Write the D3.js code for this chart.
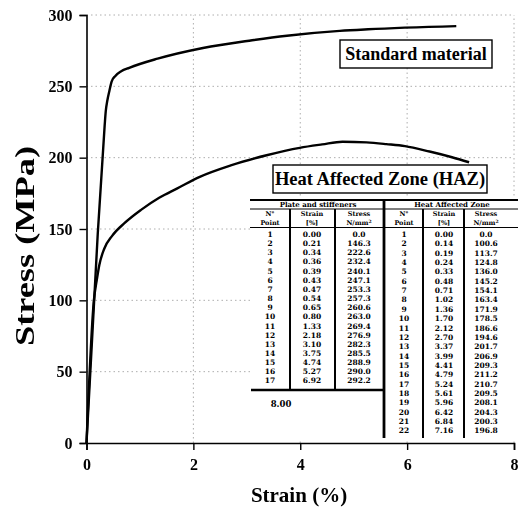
<!DOCTYPE html>
<html><head><meta charset="utf-8">
<script src="https://cdn.jsdelivr.net/npm/d3@7"></script>
<style>body{margin:0;background:#fff}svg{display:block;opacity:0.999}</style>
</head><body>
<script>
const stdStrain = [0.00,0.21,0.34,0.36,0.39,0.43,0.47,0.54,0.65,0.80,1.33,2.18,3.10,3.75,4.74,5.27,6.92];
const stdStress = [0.0,146.3,222.6,232.4,240.1,247.1,253.3,257.3,260.6,263.0,269.4,276.9,282.3,285.5,288.9,290.0,292.2];
const hazStrain = [0.00,0.14,0.19,0.24,0.33,0.48,0.71,1.02,1.36,1.70,2.12,2.70,3.37,3.99,4.41,4.79,5.24,5.61,5.96,6.42,6.84,7.16];
const hazStress = [0.0,100.6,113.7,124.8,136.0,145.2,154.1,163.4,171.9,178.5,186.6,194.6,201.7,206.9,209.3,211.2,210.7,209.5,208.1,204.3,200.3,196.8];
const xTicks = [0,2,4,6,8];
const yTicks = [0,50,100,150,200,250,300];
const seriesLabels = ["Standard material","Heat Affected Zone (HAZ)"];
const tableHeaders = ["Plate and stiffeners","Heat Affected Zone"];

const W=522,H=508, F="'Liberation Serif', 'Times New Roman', serif", TF="'DejaVu Serif', serif";
const svg=d3.select("body").append("svg").attr("width",W).attr("height",H);
const x=d3.scaleLinear().domain([0,8]).range([86.5,514]);
const y=d3.scaleLinear().domain([0,300]).range([443,15]);

// grid
const g=svg.append("g");
g.selectAll(".gy").data(yTicks.filter(d=>d>0)).join("line")
 .attr("x1",x(0)).attr("x2",x(8)).attr("y1",d=>y(d)).attr("y2",d=>y(d))
 .attr("stroke","#999").attr("stroke-width",0.8).attr("stroke-dasharray","1.5,3");
g.selectAll(".gx").data(xTicks.filter(d=>d>0)).join("line")
 .attr("y1",y(0)).attr("y2",y(300)).attr("x1",d=>x(d)).attr("x2",d=>x(d))
 .attr("stroke","#999").attr("stroke-width",0.8).attr("stroke-dasharray","1.5,3");

// axes
const ax=svg.append("g").attr("transform",`translate(${x(0)},0)`)
 .call(d3.axisLeft(y).tickValues(yTicks).tickSize(7).tickPadding(7).tickFormat(d3.format("d")));
const bx=svg.append("g").attr("transform",`translate(0,${y(0)})`)
 .call(d3.axisBottom(x).tickValues(xTicks).tickSize(7).tickPadding(9).tickFormat(d3.format("d")));
[ax,bx].forEach(a=>{a.attr("font-family",F);
 a.select(".domain").attr("stroke","#000").attr("stroke-width",1.6);
 a.selectAll(".tick line").attr("stroke","#000").attr("stroke-width",1.4);
 a.selectAll("text").style("font-family",F).attr("font-weight","bold").attr("font-size",16).attr("fill","#000");});

// curves
const line=d3.line().x(d=>x(d[0])).y(d=>y(d[1])).curve(d3.curveMonotoneX);
svg.append("path").datum(stdStrain.map((s,i)=>[s,stdStress[i]])).attr("d",line)
 .attr("fill","none").attr("stroke","#000").attr("stroke-width",2.4);
svg.append("path").datum(hazStrain.map((s,i)=>[s,hazStress[i]])).attr("d",line)
 .attr("fill","none").attr("stroke","#000").attr("stroke-width",2.4);

// axis titles
svg.append("text").attr("x",299).attr("y",502).attr("text-anchor","middle")
 .style("font-family",F).attr("font-weight","bold").attr("font-size",21).text("Strain (%)");
svg.append("text").attr("transform","translate(34,246) rotate(-90)").attr("text-anchor","middle")
 .style("font-family",F).attr("font-weight","bold").attr("font-size",27)
 .attr("textLength",200).attr("lengthAdjust","spacingAndGlyphs").text("Stress (MPa)");

// legend boxes
function box(x0,y0,w,h,txt,fs){
 svg.append("rect").attr("x",x0).attr("y",y0).attr("width",w).attr("height",h)
  .attr("fill","#fff").attr("stroke","#000").attr("stroke-width",1.4);
 svg.append("text").attr("x",x0+w/2).attr("y",y0+h/2+fs*0.34).attr("text-anchor","middle")
  .style("font-family",F).attr("font-weight","bold").attr("font-size",fs).text(txt);
}
box(340,40,152,28,seriesLabels[0],18);
box(273,165,214,28,seriesLabels[1],18.5);

// table
const T=svg.append("g").style("font-family",TF).attr("font-weight","bold");
T.append("rect").attr("x",250).attr("y",197).attr("width",268).attr("height",243).attr("fill","#fff");
const hl=(x1,x2,yy,w)=>T.append("line").attr("x1",x1).attr("x2",x2).attr("y1",yy).attr("y2",yy).attr("stroke","#000").attr("stroke-width",w);
const vl=(xx,y1,y2,w)=>T.append("line").attr("x1",xx).attr("x2",xx).attr("y1",y1).attr("y2",y2).attr("stroke","#000").attr("stroke-width",w);
hl(250,518,200,1.8); hl(250,518,209,1); hl(250,518,227.5,1);
hl(251,384,390,2.6);
vl(290,209,390,2); vl(335,209,390,2); vl(384,200,438,2.8);
vl(423,209,438,2); vl(464,209,438,2);
const tx=(xx,yy,s,fs)=>T.append("text").attr("x",xx).attr("y",yy).attr("text-anchor","middle").attr("font-size",fs).text(s);
tx(318,207,tableHeaders[0],7); tx(452,207,tableHeaders[1],7);
const colL=[270,312,359], colR=[404,444,486];
[colL,colR].forEach(c=>{
 tx(c[0],216,"N°",6.5); tx(c[0],225,"Point",6.5);
 tx(c[1],216,"Strain",6.5); tx(c[1],225,"[%]",6.5);
 tx(c[2],216,"Stress",6.5);
 T.append("text").attr("x",c[2]).attr("y",225).attr("text-anchor","middle").attr("font-size",6.5)
  .text("N/mm").append("tspan").attr("dy",-2).attr("font-size",4.5).text("2");
});
stdStrain.forEach((s,i)=>{const yy=237+i*9.15;
 tx(colL[0],yy,String(i+1),7.5); tx(colL[1],yy,s.toFixed(2),7.5); tx(colL[2],yy,stdStress[i].toFixed(1),7.5);});
hazStrain.forEach((s,i)=>{const yy=237+i*9.35;
 tx(colR[0],yy,String(i+1),7.5); tx(colR[1],yy,s.toFixed(2),7.5); tx(colR[2],yy,hazStress[i].toFixed(1),7.5);});
tx(281,407,"8.00",8.5);
</script>
</body></html>
